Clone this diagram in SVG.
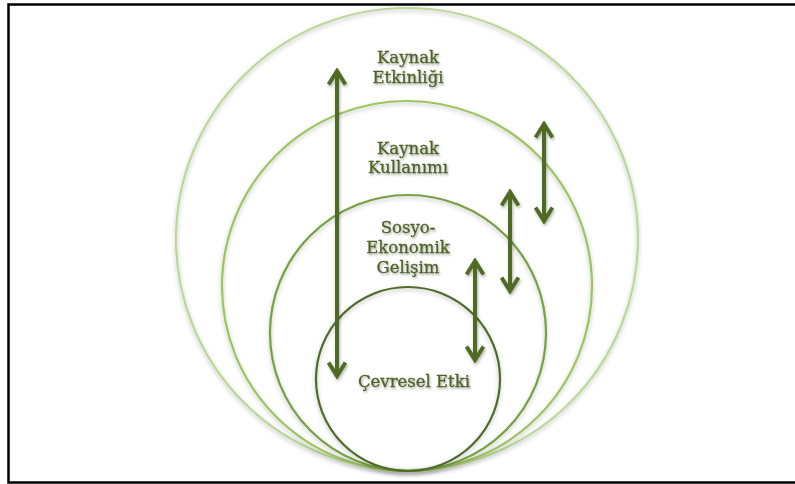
<svg xmlns="http://www.w3.org/2000/svg" width="795" height="484" viewBox="0 0 795 484">
  <defs>
    <filter id="shadow" x="-20%" y="-20%" width="140%" height="140%">
      <feDropShadow dx="0" dy="2" stdDeviation="2" flood-color="#000" flood-opacity="0.25"/>
    </filter>
    <filter id="ashadow" filterUnits="userSpaceOnUse" x="0" y="0" width="795" height="484">
      <feDropShadow dx="1" dy="2" stdDeviation="1.5" flood-color="#000" flood-opacity="0.3"/>
    </filter>
    <filter id="tshadow" x="-20%" y="-40%" width="140%" height="180%">
      <feDropShadow dx="1" dy="1.5" stdDeviation="1.2" flood-color="#000" flood-opacity="0.35"/>
    </filter>
    <marker id="head" viewBox="0 0 20 20" refX="17" refY="10" markerWidth="20" markerHeight="20" markerUnits="userSpaceOnUse" orient="auto-start-reverse">
      <path d="M3.5,1.5 L17,10 L3.5,18.5" fill="none" stroke="#4f6b22" stroke-width="4" stroke-linejoin="miter"/>
    </marker>
  </defs>
  <style>
    .ring { fill: none; stroke-width: 2.2; filter: url(#shadow); }
    .arrow { stroke: #4f6b22; stroke-width: 4; fill: none; }
    .lbl { font-family: "DejaVu Serif", "Liberation Serif", serif; font-size: 16.5px; fill: #4f6228; stroke: #4f6228; stroke-width: 0.3; text-anchor: middle; filter: url(#tshadow); }
  </style>
  <rect x="0" y="0" width="795" height="484" fill="#fff"/>
  <rect id="frame" x="8.5" y="4.5" width="800" height="478" fill="none" stroke="#000" stroke-width="2.5"/>

  <g id="ring-kaynak-etkinligi">
    <circle class="ring" cx="407" cy="239" r="231" stroke="#bcd898"/>
    <text class="lbl" x="408" y="63">Kaynak</text>
    <text class="lbl" x="408" y="83">Etkinliği</text>
  </g>
  <g id="ring-kaynak-kullanimi">
    <circle class="ring" cx="407" cy="286" r="185" stroke="#9ec45e"/>
    <text class="lbl" x="408" y="154">Kaynak</text>
    <text class="lbl" x="408" y="173">Kullanımı</text>
  </g>
  <g id="ring-sosyo-ekonomik">
    <circle class="ring" cx="408" cy="333" r="138" stroke="#77a040"/>
    <text class="lbl" x="408" y="233">Sosyo-</text>
    <text class="lbl" x="408" y="253">Ekonomik</text>
    <text class="lbl" x="408" y="273">Gelişim</text>
  </g>
  <g id="ring-cevresel-etki">
    <circle class="ring" cx="408" cy="379" r="92" stroke="#4f6b2a"/>
    <text class="lbl" x="414" y="387">Çevresel Etki</text>
  </g>

  <g id="connectors" filter="url(#ashadow)">
    <line class="arrow" x1="337" y1="71" x2="337" y2="376" marker-start="url(#head)" marker-end="url(#head)"/>
    <line class="arrow" x1="544" y1="124" x2="544" y2="221" marker-start="url(#head)" marker-end="url(#head)"/>
    <line class="arrow" x1="510" y1="192" x2="510" y2="291" marker-start="url(#head)" marker-end="url(#head)"/>
    <line class="arrow" x1="475" y1="261" x2="475" y2="360" marker-start="url(#head)" marker-end="url(#head)"/>
  </g>
</svg>
